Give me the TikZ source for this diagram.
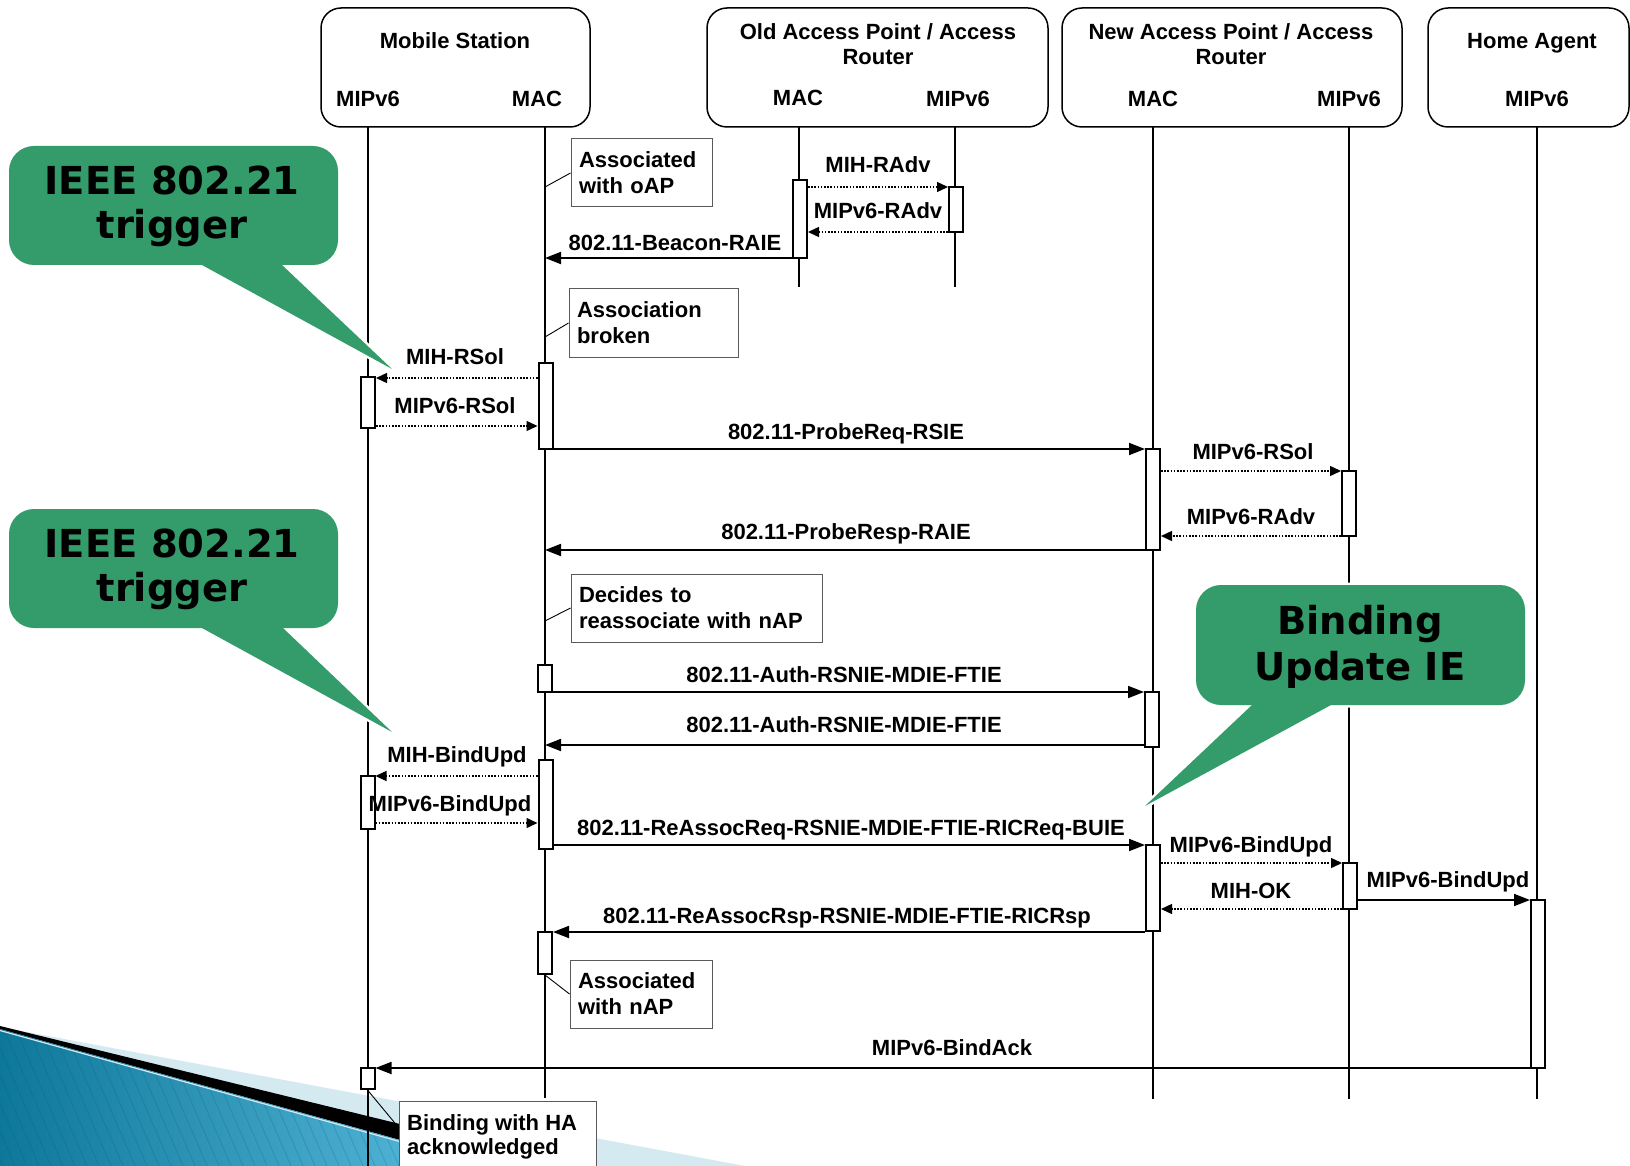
\documentclass[tikz,border=0pt]{standalone}
\usepackage{fontspec}
\setmainfont{Liberation Sans}
\newfontfamily\calloutfont{DejaVu Sans}
\usetikzlibrary{arrows.meta,calc}
\definecolor{calloutgreen}{RGB}{52,155,106}
\definecolor{palesky}{RGB}{213,233,241}
\definecolor{tealdark}{RGB}{14,120,154}
\definecolor{teallight}{RGB}{92,190,224}
\definecolor{notegray}{RGB}{90,90,90}

\tikzset{
  hdr/.style={draw=black, line width=1.5pt, rounded corners=20pt, fill=white, inner sep=0pt, minimum height=119pt},
  lbl/.style={font=\bfseries\fontsize{22}{26}\selectfont, inner sep=0pt},
  bigtxt/.style={font=\calloutfont\bfseries\fontsize{38.5}{44}\selectfont, inner sep=0pt},
  life/.style={line width=1.8pt},
  act/.style={draw=black, line width=2pt, fill=white, minimum width=14pt, inner sep=0pt},
  msg/.style={line width=1.8pt, -{Triangle[length=16pt,width=12pt]}},
  sig/.style={line width=1.4pt, dash pattern=on 1.6pt off 1.6pt, -{Triangle[length=11pt,width=10pt]}},
  note/.style={draw=notegray, line width=1pt, fill=white, inner xsep=8pt, inner ysep=0pt,
               minimum height=68pt, align=left, font=\bfseries\fontsize{22}{26}\selectfont},
  tie/.style={line width=0.9pt},
  calloutrim/.style={draw=white, line width=5pt, line join=round},
  calloutfill/.style={fill=calloutgreen}
}

\begin{document}
\begin{tikzpicture}[x=1pt,y=-1pt]
\useasboundingbox (0,0) rectangle (1630,1166);

% ---- slide corner ornament ----
\fill[palesky] (0,1027) -- (745,1166) -- (0,1166) -- cycle;
\fill[black] (0,1026) -- (520,1153.4) -- (520,1173.3) -- (0,1029) -- cycle;
\shade[left color=tealdark, right color=teallight] (0,1029) -- (495,1166.4) -- (0,1166.4) -- cycle;
\begin{scope}
  \clip (0,1029) -- (495,1166.4) -- (0,1166.4) -- cycle;
  \foreach \k in {-8,...,45}
    \draw[tealdark!70!black, opacity=0.22, line width=0.8pt] (\k*12,1020) -- ++(63,146);
\end{scope}
\draw[palesky, line width=1.2pt] (0,1030.5) -- (495,1168);

% ---- participant headers ----
\node[hdr, minimum width=269pt] (ms)  at (455.5,67.5) {};
\node[hdr, minimum width=341pt] (oap) at (877.5,67.5) {};
\node[hdr, minimum width=340pt] (nap) at (1232,67.5) {};
\node[hdr, minimum width=201pt] (ha)  at (1528.5,67.5) {};

\node[lbl, anchor=base] (msT)    at (455,48.5) {Mobile Station};
\node[lbl, anchor=base] (msMIPl) at (368,107) {MIPv6};
\node[lbl, anchor=base] (msMACl) at (537,107) {MAC};
\node[lbl, anchor=base] (oT1)    at (878,40)  {Old Access Point / Access};
\node[lbl, anchor=base] (oT2)    at (878,65)  {Router};
\node[lbl, anchor=base] (oMACl)  at (798,106) {MAC};
\node[lbl, anchor=base] (oMIPl)  at (958,107) {MIPv6};
\node[lbl, anchor=base] (nT1)    at (1231,40) {New Access Point / Access};
\node[lbl, anchor=base] (nT2)    at (1231,65) {Router};
\node[lbl, anchor=base] (nMACl)  at (1153,107) {MAC};
\node[lbl, anchor=base] (nMIPl)  at (1349,107) {MIPv6};
\node[lbl, anchor=base] (haT)    at (1532,48.5) {Home Agent};
\node[lbl, anchor=base] (haMIPl) at (1537,107) {MIPv6};

% ---- lifelines ----
\coordinate (lMSP) at (368,127);  \coordinate (eMSP) at (368,1170);
\coordinate (lMSM) at (545,127);  \coordinate (eMSM) at (545,1098);
\coordinate (lOM)  at (799,127);  \coordinate (eOM)  at (799,287);
\coordinate (lOP)  at (955,127);  \coordinate (eOP)  at (955,287);
\coordinate (lNM)  at (1153,127); \coordinate (eNM)  at (1153,1099);
\coordinate (lNP)  at (1349,127); \coordinate (eNP)  at (1349,1099);
\coordinate (lHA)  at (1537,127); \coordinate (eHA)  at (1537,1099);
\foreach \a/\b in {lMSP/eMSP, lMSM/eMSM, lOM/eOM, lOP/eOP, lNM/eNM, lNP/eNP, lHA/eHA}
  \draw[life] (\a) -- (\b);

% ---- activation bars ----
\node[act, minimum height=78pt]  (oA1) at (800,219) {};
\node[act, minimum height=45pt]  (oB1) at (956,209.5) {};
\node[act, minimum height=86pt]  (mM1) at (545.5,406) {};
\node[act, minimum height=51pt]  (mP1) at (368,402.5) {};
\node[act, minimum height=101pt] (nA1) at (1153,499.5) {};
\node[act, minimum height=65pt]  (nB1) at (1349,503.5) {};
\node[act, minimum height=27pt]  (mM2) at (545,678.5) {};
\node[act, minimum height=55pt]  (nA2) at (1152,719.5) {};
\node[act, minimum height=89pt]  (mM3) at (545.5,804.5) {};
\node[act, minimum height=53pt]  (mP2) at (367.5,802.5) {};
\node[act, minimum height=86pt]  (nA3) at (1153,888) {};
\node[act, minimum height=46pt]  (nB2) at (1350,886) {};
\node[act, minimum height=168pt] (ha1) at (1538,984) {};
\node[act, minimum height=42pt]  (mM4) at (545,953) {};
\node[act, minimum height=21pt]  (mP3) at (367.5,1078.5) {};

% ---- message levels ----
\coordinate (yRAdvA)   at (0,187);
\coordinate (yRAdvB)   at (0,232);
\coordinate (yBeacon)  at (0,258);
\coordinate (yRSolA)   at (0,378);
\coordinate (yRSolB)   at (0,426);
\coordinate (yProbeQ)  at (0,449);
\coordinate (yRSolC)   at (0,471);
\coordinate (yRAdvC)   at (0,536);
\coordinate (yProbeR)  at (0,550);
\coordinate (yAuthA)   at (0,692);
\coordinate (yAuthB)   at (0,745);
\coordinate (yBindA)   at (0,776);
\coordinate (yBindB)   at (0,823);
\coordinate (yReqC)    at (0,845);
\coordinate (yBindC)   at (0,863);
\coordinate (yHAUpd)   at (0,900);
\coordinate (yOK)      at (0,909);
\coordinate (yRsp)     at (0,932);
\coordinate (yAck)     at (0,1068);

% ---- messages ----
\draw[sig] (oA1.east |- yRAdvA) -- (oB1.west |- yRAdvA);
\draw[sig] (oB1.west |- yRAdvB) -- (oA1.east |- yRAdvB);
\draw[msg] (oA1.west |- yBeacon) -- (lMSM |- yBeacon);
\draw[sig] (mM1.west |- yRSolA) -- (mP1.east |- yRSolA);
\draw[sig] (mP1.east |- yRSolB) -- (mM1.west |- yRSolB);
\draw[msg] (mM1.east |- yProbeQ) -- (nA1.west |- yProbeQ);
\draw[sig] (nA1.east |- yRSolC) -- (nB1.west |- yRSolC);
\draw[sig] (nB1.west |- yRAdvC) -- (nA1.east |- yRAdvC);
\draw[msg] (nA1.west |- yProbeR) -- (lMSM |- yProbeR);
\draw[msg] (mM2.east |- yAuthA) -- (nA2.west |- yAuthA);
\draw[msg] (nA2.west |- yAuthB) -- (lMSM |- yAuthB);
\draw[sig] (mM3.west |- yBindA) -- (mP2.east |- yBindA);
\draw[sig] (mP2.east |- yBindB) -- (mM3.west |- yBindB);
\draw[msg] (mM3.east |- yReqC) -- (nA3.west |- yReqC);
\draw[sig] (nA3.east |- yBindC) -- (nB2.west |- yBindC);
\draw[msg] (nB2.east |- yHAUpd) -- (ha1.west |- yHAUpd);
\draw[sig] (nB2.west |- yOK) -- (nA3.east |- yOK);
\draw[msg] (nA3.west |- yRsp) -- (mM4.east |- yRsp);
\draw[msg] (ha1.west |- yAck) -- (mP3.east |- yAck);

% ---- message labels ----
\node[lbl, anchor=base] (tRAdvA)  at (878,173)  {MIH-RAdv};
\node[lbl, anchor=base] (tRAdvB)  at (878,219)  {MIPv6-RAdv};
\node[lbl, anchor=base] (tBeacon) at (675,251)  {802.11-Beacon-RAIE};
\node[lbl, anchor=base] (tRSolA)  at (455,364.5) {MIH-RSol};
\node[lbl, anchor=base] (tRSolB)  at (455,413.5) {MIPv6-RSol};
\node[lbl, anchor=base] (tProbeQ) at (846,439)  {802.11-ProbeReq-RSIE};
\node[lbl, anchor=base] (tRSolC)  at (1253,459) {MIPv6-RSol};
\node[lbl, anchor=base] (tRAdvC)  at (1251,524.5) {MIPv6-RAdv};
\node[lbl, anchor=base] (tProbeR) at (846,539.5) {802.11-ProbeResp-RAIE};
\node[lbl, anchor=base] (tAuthA)  at (844,682)  {802.11-Auth-RSNIE-MDIE-FTIE};
\node[lbl, anchor=base] (tAuthB)  at (844,732)  {802.11-Auth-RSNIE-MDIE-FTIE};
\node[lbl, anchor=base] (tBindA)  at (457,762)  {MIH-BindUpd};
\node[lbl, anchor=base] (tBindB)  at (450,811)  {MIPv6-BindUpd};
\node[lbl, anchor=base] (tReqC)   at (851,835)  {802.11-ReAssocReq-RSNIE-MDIE-FTIE-RICReq-BUIE};
\node[lbl, anchor=base] (tBindC)  at (1251,852) {MIPv6-BindUpd};
\node[lbl, anchor=base] (tOK)     at (1251,898) {MIH-OK};
\node[lbl, anchor=base] (tHAUpd)  at (1448,887) {MIPv6-BindUpd};
\node[lbl, anchor=base] (tRsp)    at (847,923)  {802.11-ReAssocRsp-RSNIE-MDIE-FTIE-RICRsp};
\node[lbl, anchor=base] (tAck)    at (952,1055) {MIPv6-BindAck};

% ---- notes ----
\node[note, text width=125pt] (nOAP) at (641.5,173) {Associated\\with oAP};
\node[note, text width=153pt] (nBrk) at (653.5,323) {Association\\broken};
\node[note, text width=235pt] (nDec) at (696.5,608) {Decides to\\reassociate with nAP};
\node[note, text width=126pt] (nNAP) at (641,994)   {Associated\\with nAP};
\node[draw=notegray, line width=1pt, fill=white, minimum width=197pt, minimum height=100pt,
      anchor=north west, inner sep=0pt] (hab) at (399,1101) {};
\node[lbl, anchor=base west] (habT1) at (407,1130) {Binding with HA};
\node[lbl, anchor=base west] (habT2) at (407,1154) {acknowledged};

\coordinate (kOAP) at (545,187);
\coordinate (kBrk) at (545,337);
\coordinate (kDec) at (545,621);
\coordinate (kHab) at (399,1128);
\draw[tie] (kOAP) -- (nOAP.west);
\draw[tie] (kBrk) -- (nBrk.west);
\draw[tie] (kDec) -- (nDec.west);
\draw[tie] (mM4.south) -- (nNAP.west);
\draw[tie] (mP3.south) -- (kHab);

% ---- callouts ----
% upper trigger
\path[calloutrim] (183.7,255) -- (392,369) -- (271.4,255) -- cycle;
\path[calloutrim, rounded corners=25pt] (9,146) rectangle (338,265);
\path[calloutfill] (183.7,255) -- (392,369) -- (271.4,255) -- cycle;
\path[calloutfill, rounded corners=25pt] (9,146) rectangle (338,265);
\node[bigtxt, anchor=base] (cA1) at (172,195) {IEEE 802.21};
\node[bigtxt, anchor=base] (cA2) at (172,239) {trigger};

% lower trigger
\path[calloutrim] (183.7,618) -- (392,732) -- (272.5,618) -- cycle;
\path[calloutrim, rounded corners=25pt] (9,509) rectangle (338,628);
\path[calloutfill] (183.7,618) -- (392,732) -- (272.5,618) -- cycle;
\path[calloutfill, rounded corners=25pt] (9,509) rectangle (338,628);
\node[bigtxt, anchor=base] (cB1) at (172,557) {IEEE 802.21};
\node[bigtxt, anchor=base] (cB2) at (172,601) {trigger};

% binding update
\path[calloutrim] (1262.6,695) -- (1145,806) -- (1349.4,695) -- cycle;
\path[calloutrim, rounded corners=25pt] (1196,585) rectangle (1525,705);
\path[calloutfill] (1262.6,695) -- (1145,806) -- (1349.4,695) -- cycle;
\path[calloutfill, rounded corners=25pt] (1196,585) rectangle (1525,705);
\node[bigtxt, anchor=base] (cC1) at (1360,634) {Binding};
\node[bigtxt, anchor=base] (cC2) at (1360,680) {Update IE};

\end{tikzpicture}
\end{document}
